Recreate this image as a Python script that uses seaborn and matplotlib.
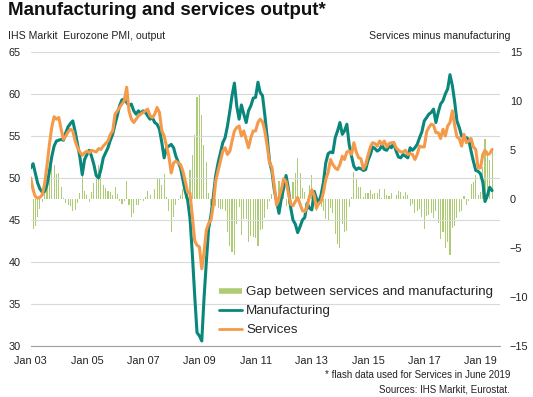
import pandas as pd
import matplotlib
matplotlib.use("Agg")
import matplotlib.pyplot as plt
import matplotlib.dates as mdates
from matplotlib.lines import Line2D
import seaborn as sns

# Eurozone PMI output indices, monthly Jan 2003 - Jun 2019
manufacturing = [
    51.2, 51.7, 50.6, 49.4, 48.7, 48.3, 48.4, 49.2, 50.8, 52.5, 53.8, 54.4,  # 2003
    54.5, 54.6, 54.5, 55.4, 56.1, 56.5, 56.8, 55.5, 54.0, 52.5, 50.4, 52.2,  # 2004
    52.8, 53.3, 52.6, 51.6, 50.3, 50.0, 51.0, 52.4, 53.0, 53.6, 54.5, 55.2,  # 2005
    56.4, 57.5, 58.6, 59.3, 59.4, 59.0, 58.6, 58.8, 58.0, 57.6, 58.0, 57.7,  # 2006
    58.0, 57.8, 57.4, 57.0, 57.2, 56.6, 56.4, 55.8, 54.2, 52.4, 53.6, 53.8,  # 2007
    54.0, 53.6, 52.6, 51.9, 51.2, 49.8, 48.4, 47.4, 45.2, 41.0, 36.0, 31.6,  # 2008
    31.2, 30.6, 35.5, 40.0, 44.0, 45.6, 47.8, 50.3, 51.8, 53.0, 54.2, 54.8,  # 2009
    56.2, 58.0, 59.8, 61.3, 58.6, 57.0, 58.7, 57.6, 56.6, 58.0, 58.6, 59.5,  # 2010
    59.6, 61.4, 60.2, 59.8, 57.5, 54.8, 52.0, 50.8, 48.6, 47.2, 45.8, 47.5,  # 2011
    48.8, 50.3, 48.8, 46.5, 45.0, 44.5, 43.5, 44.2, 45.0, 45.3, 47.0, 46.4,  # 2012
    46.2, 48.4, 47.6, 47.0, 48.0, 49.5, 51.8, 52.9, 53.1, 53.0, 54.8, 55.6,  # 2013
    56.6, 55.2, 55.6, 56.4, 54.0, 52.6, 51.4, 51.0, 51.2, 51.1, 50.9, 51.0,  # 2014
    52.1, 52.8, 53.7, 53.5, 53.2, 53.4, 53.9, 53.4, 53.3, 53.8, 53.6, 54.2,  # 2015
    53.2, 52.5, 52.4, 52.8, 52.6, 52.4, 53.6, 53.3, 53.6, 54.0, 54.8, 55.5,  # 2016
    56.8, 57.2, 57.6, 57.8, 58.2, 56.6, 57.8, 58.8, 59.2, 60.0, 60.6, 62.3,  # 2017
    61.0, 59.0, 56.8, 56.0, 55.0, 54.9, 54.8, 54.6, 53.2, 52.0, 50.9, 50.8,  # 2018
    50.5, 49.5, 47.2, 47.9, 48.9, 48.5,                                      # 2019
]
services = [
    50.0, 48.6, 47.8, 47.6, 47.7, 48.0, 49.3, 51.5, 54.0, 56.0, 57.3, 57.0,  # 2003
    57.2, 55.8, 54.6, 55.0, 55.5, 55.8, 55.6, 54.4, 53.6, 53.1, 52.7, 53.0,  # 2004
    53.2, 53.0, 53.3, 53.2, 53.1, 53.5, 53.4, 53.8, 54.1, 54.4, 55.2, 55.6,  # 2005
    57.6, 58.0, 58.4, 58.8, 59.2, 60.8, 58.0, 57.0, 56.6, 57.0, 57.4, 57.6,  # 2006
    57.8, 58.0, 58.2, 57.4, 57.2, 57.6, 58.4, 57.8, 55.6, 55.0, 53.8, 52.6,  # 2007
    50.6, 51.8, 52.0, 51.8, 51.6, 50.8, 49.6, 48.3, 48.2, 45.5, 42.5, 42.0,  # 2008
    41.8, 39.2, 41.0, 43.8, 44.6, 45.0, 46.8, 49.6, 50.9, 52.0, 53.2, 53.6,  # 2009
    52.8, 53.2, 54.4, 55.6, 56.0, 56.2, 55.0, 55.6, 54.6, 53.6, 54.8, 55.6,  # 2010
    55.6, 56.6, 57.0, 56.7, 55.6, 53.8, 51.8, 51.3, 49.0, 46.8, 47.6, 48.6,  # 2011
    49.9, 49.6, 48.3, 46.9, 46.7, 47.2, 47.7, 46.9, 46.1, 46.0, 46.6, 47.8,  # 2012
    48.6, 47.9, 46.4, 47.0, 47.2, 48.3, 49.8, 50.7, 52.2, 51.6, 51.2, 51.0,  # 2013
    51.6, 52.6, 52.2, 53.1, 53.2, 52.8, 54.2, 53.1, 52.4, 52.3, 51.1, 51.6,  # 2014
    52.7, 53.7, 54.2, 54.1, 53.8, 54.4, 54.0, 54.4, 53.7, 54.1, 54.2, 54.2,  # 2015
    53.6, 53.3, 53.1, 53.1, 53.3, 52.8, 52.9, 52.8, 52.2, 52.8, 53.8, 53.7,  # 2016
    53.7, 55.5, 56.0, 56.4, 56.3, 55.4, 55.4, 54.7, 55.8, 55.0, 56.2, 56.6,  # 2017
    58.0, 56.2, 54.9, 54.7, 53.8, 55.2, 54.2, 54.4, 54.7, 53.7, 53.4, 51.2,  # 2018
    51.2, 52.8, 53.3, 52.8, 52.9, 53.4,                                      # 2019
]
left_ticks = [30, 35, 40, 45, 50, 55, 60, 65]
right_ticks = [-15, -10, -5, 0, 5, 10, 15]
label_years = [2003, 2005, 2007, 2009, 2011, 2013, 2015, 2017, 2019]

teal = "#0A877B"
orange = "#F59A4A"
green = "#AECB76"

sns.set_style("white")
plt.rcParams['font.family'] = ['Liberation Sans', 'DejaVu Sans']

df = pd.DataFrame({
    "date": pd.date_range("2003-01-01", periods=len(manufacturing), freq="MS"),
    "Manufacturing": manufacturing,
    "Services": services,
})
df["Gap"] = df["Services"] - df["Manufacturing"]

fig = plt.figure(figsize=(5.33, 3.97), dpi=100)
ax = fig.add_axes([30.7 / 533, 1 - 346 / 397, (500 - 30.7) / 533, 294 / 397])
ax2 = ax.twinx()

# gap bars on the right axis, behind the lines
ax2.bar(df["date"], df["Gap"], width=14, color=green, linewidth=0)
ax2.set_ylim(-15, 15)
ax2.set_yticks(right_ticks)

ax.set_zorder(ax2.get_zorder() + 1)
ax.patch.set_visible(False)

sns.lineplot(data=df, x="date", y="Manufacturing", ax=ax, color=teal, linewidth=2.2)
sns.lineplot(data=df, x="date", y="Services", ax=ax, color=orange, linewidth=2.2)

ax.set_ylim(30, 65)
ax.set_yticks(left_ticks)
ax.set_xlim(pd.Timestamp("2003-01-01"), pd.Timestamp("2019-09-12"))
ax.set_xticks([pd.Timestamp(f"{y}-01-01") for y in label_years])
ax.xaxis.set_minor_locator(mdates.YearLocator(1))
ax.xaxis.set_major_formatter(mdates.DateFormatter("Jan %y"))
ax.set_xlabel("")
ax.set_ylabel("")
ax.grid(axis="y", color="#d9d9d9", linewidth=0.8)

for a in (ax, ax2):
    for s in a.spines.values():
        s.set_visible(False)
ax.spines["bottom"].set_visible(True)
ax.spines["bottom"].set_color("#a0a0a0")
ax.spines["bottom"].set_linewidth(0.8)

ax.tick_params(axis="y", length=0, pad=7, labelsize=7.8, labelcolor="#222222")
ax2.tick_params(axis="y", length=0, pad=7, labelsize=7.8, labelcolor="#222222")
ax.tick_params(axis="x", which="both", direction="inout", length=3, color="#a0a0a0",
               pad=6, labelsize=7.8, labelcolor="#222222")

handles = [
    Line2D([], [], color=green, linewidth=4, solid_capstyle="butt"),
    Line2D([], [], color=teal, linewidth=2),
    Line2D([], [], color=orange, linewidth=2),
]
labels = ["Gap between services and manufacturing", "Manufacturing", "Services"]
fig.legend(handles, labels, loc="upper left", bbox_to_anchor=(219 / 533, 1 - 286 / 397),
           frameon=False, fontsize=9.6, handlelength=1.75, handletextpad=0.3,
           labelspacing=0.5, borderpad=0, borderaxespad=0)

fig.text(8 / 533, 1 - 2 / 397, "Manufacturing and services output*", fontsize=13.5,
         fontweight="bold", va="top", ha="left", color="#111111")
fig.text(8 / 533, 1 - 36 / 397, "IHS Markit  Eurozone PMI, output", fontsize=7.6,
         va="center", ha="left", color="#222222")
fig.text(510 / 533, 1 - 36 / 397, "Services minus manufacturing", fontsize=7.6,
         va="center", ha="right", color="#222222")
fig.text(510 / 533, 1 - 375 / 397, "* flash data used for Services in June 2019", fontsize=7,
         va="center", ha="right", color="#222222")
fig.text(510 / 533, 1 - 390 / 397, "Sources: IHS Markit, Eurostat.", fontsize=7,
         va="center", ha="right", color="#222222")

fig.savefig("out.png", dpi=100)
